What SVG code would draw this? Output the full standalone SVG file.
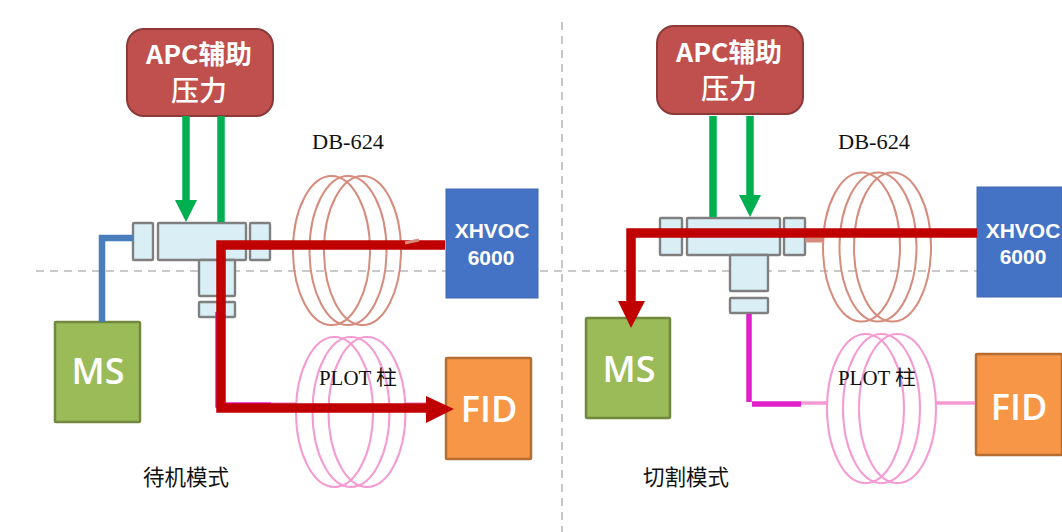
<svg xmlns="http://www.w3.org/2000/svg" width="1062" height="532" viewBox="0 0 1062 532">
<style>
.dash{stroke:#b8b8b8;stroke-width:1.6;stroke-dasharray:8 6;fill:none}
.apc{fill:#c0504d;stroke:#8c3a38;stroke-width:2}
.wt{fill:#fff;font-family:"Noto Sans CJK SC","Liberation Sans",sans-serif;font-weight:700;text-anchor:middle}
.ws{fill:#fff;font-family:"Open Sans","Liberation Sans",sans-serif;font-weight:600;text-anchor:middle}
.ms{fill:#9bbb59;stroke:#71893f;stroke-width:2.5}
.fid{fill:#f79646;stroke:#b56d32;stroke-width:2.5}
.xh{fill:#4472c4;stroke:#3f68b0;stroke-width:1}
.xt{fill:#fff;font-family:"Liberation Sans",sans-serif;font-weight:700;font-size:21px;text-anchor:middle}
.part{fill:#d9eef5;stroke:#7f7f7f;stroke-width:2.4}
.lbl{fill:#111;font-family:"Liberation Serif","Noto Sans CJK SC",serif;font-size:20px}
.cap{fill:#111;font-family:"Noto Sans CJK SC",sans-serif;font-size:21.5px;text-anchor:middle}
.c1{fill:none;stroke:#d68c7c;stroke-width:2}
.c2{fill:none;stroke:#f59ad2;stroke-width:2}
.g{fill:none;stroke:#00b050;stroke-width:7.5}
.gh{fill:#00b050}
.r{fill:none;stroke:#c00000;stroke-width:9.5}
.rh{fill:#c00000}
.m{fill:none;stroke:#e020c8;stroke-width:5.5}
.p{fill:none;stroke:#f59ad2;stroke-width:3.5}
.b{fill:none;stroke:#4a7ebb;stroke-width:6.5}
</style>
<rect width="1062" height="532" fill="#fff"/>
<g id="guides">
<path class="dash" d="M36 271H1062"/>
<path class="dash" d="M562 22V532"/>
</g>
<g id="coil-left-db624">
<ellipse class="c1" cx="331.500" cy="250.500" rx="38.500" ry="74.500"/><ellipse class="c1" cx="348" cy="250.500" rx="38.500" ry="74.500"/><ellipse class="c1" cx="362.500" cy="250.500" rx="38.500" ry="74.500"/>
</g>
<g id="coil-left-plot">
<ellipse class="c2" cx="334.500" cy="412" rx="38.500" ry="75"/><ellipse class="c2" cx="351" cy="412" rx="38.500" ry="75"/><ellipse class="c2" cx="367" cy="412" rx="38.500" ry="75"/>
</g>
<g id="coil-right-db624">
<ellipse class="c1" cx="861.500" cy="247" rx="38.500" ry="74.500"/><ellipse class="c1" cx="878" cy="247" rx="38.500" ry="74.500"/><ellipse class="c1" cx="892.500" cy="247" rx="38.500" ry="74.500"/>
</g>
<g id="coil-right-plot">
<ellipse class="c2" cx="865.500" cy="408.500" rx="38.500" ry="74.500"/><ellipse class="c2" cx="881.500" cy="408.500" rx="38.500" ry="74.500"/><ellipse class="c2" cx="897.500" cy="408.500" rx="38.500" ry="74.500"/>
</g>
<g id="valve-left">
<rect class="part" x="133" y="223" width="20" height="37" rx="1"/>
<rect class="part" x="158" y="223" width="88" height="37" rx="1"/>
<rect class="part" x="250" y="223" width="20" height="37" rx="1"/>
<rect class="part" x="199" y="260" width="36" height="36" rx="1"/>
<rect class="part" x="199" y="302" width="36" height="15" rx="1"/>
</g>
<g id="valve-right">
<rect class="part" x="660" y="218" width="22" height="37" rx="1"/>
<rect class="part" x="687" y="218" width="93" height="37" rx="1"/>
<rect class="part" x="784" y="218" width="21" height="37" rx="1"/>
<rect class="part" x="730" y="255" width="38" height="36" rx="1"/>
<rect class="part" x="730" y="298" width="38" height="15" rx="1"/>
</g>
<g id="apc-left">
<rect class="apc" x="127" y="29" width="146" height="87" rx="17"/>
<text class="wt" font-size="26" x="199" y="64" textLength="106" lengthAdjust="spacingAndGlyphs">APC辅助</text>
<text class="wt" font-size="28" x="199" y="101" style="font-weight:500">压力</text>
</g>
<g id="apc-right">
<rect class="apc" x="657" y="26" width="146" height="88" rx="17"/>
<text class="wt" font-size="26" x="729" y="62" textLength="106" lengthAdjust="spacingAndGlyphs">APC辅助</text>
<text class="wt" font-size="28" x="729" y="99" style="font-weight:500">压力</text>
</g>
<g id="ms-left">
<rect class="ms" x="55" y="322" width="85" height="100" rx="1"/>
<text class="ws" font-size="36" x="98" y="384">MS</text>
</g>
<g id="ms-right">
<rect class="ms" x="586" y="318" width="84" height="100" rx="1"/>
<text class="ws" font-size="36" x="629" y="382">MS</text>
</g>
<g id="xhvoc-left">
<rect class="xh" x="446" y="189" width="92" height="109"/>
<text class="xt" x="492" y="238">XHVOC</text><text class="xt" x="491" y="265">6000</text>
</g>
<g id="xhvoc-right">
<rect class="xh" x="977" y="187" width="85" height="110"/>
<text class="xt" x="1023" y="238">XHVOC</text><text class="xt" x="1023" y="264">6000</text>
</g>
<g id="fid-left">
<rect class="fid" x="446" y="358" width="85" height="101" rx="1"/>
<text class="ws" font-size="36" x="489" y="422">FID</text>
</g>
<g id="fid-right">
<rect class="fid" x="976" y="354" width="86" height="101" rx="1"/>
<text class="ws" font-size="36" x="1019" y="420">FID</text>
</g>
<g id="connectors">
<path class="b" d="M133 238H102V322"/>
<path class="g" d="M186 116V203"/><polygon class="gh" points="175,200 197,200 186,222"/>
<path class="g" d="M221 116V222"/>
<path class="m" d="M218 312V405H271"/>
<path class="p" d="M271 404H296M405 404H430"/>
<path class="r" d="M445 245H221V408H430"/><polygon class="rh" points="426,396 426,423 454,409"/>
<path class="c1" style="stroke-width:3" d="M405 243l14-3"/>
<path class="g" d="M713 116V217"/>
<path class="g" d="M750 116V197"/><polygon class="gh" points="739,195 761,195 750,217"/>
<path class="m" d="M749 314V402M752 404H801"/>
<path class="p" d="M801 403H827M935 403H975"/>
<path class="c1" style="stroke-width:5" d="M805 240H823"/>
<path class="r" d="M977 233H631V304"/><polygon class="rh" points="618,301 645,301 631,328"/>
</g>
<g id="labels">
<text class="lbl" x="312" y="149" textLength="72" lengthAdjust="spacingAndGlyphs">DB-624</text>
<text class="lbl" x="838" y="149" textLength="72" lengthAdjust="spacingAndGlyphs">DB-624</text>
<text class="lbl" x="319" y="385" textLength="78" lengthAdjust="spacingAndGlyphs">PLOT 柱</text>
<text class="lbl" x="838" y="385" textLength="78" lengthAdjust="spacingAndGlyphs">PLOT 柱</text>
<text class="cap" x="186" y="485">待机模式</text>
<text class="cap" x="686" y="485">切割模式</text>
</g>
</svg>
